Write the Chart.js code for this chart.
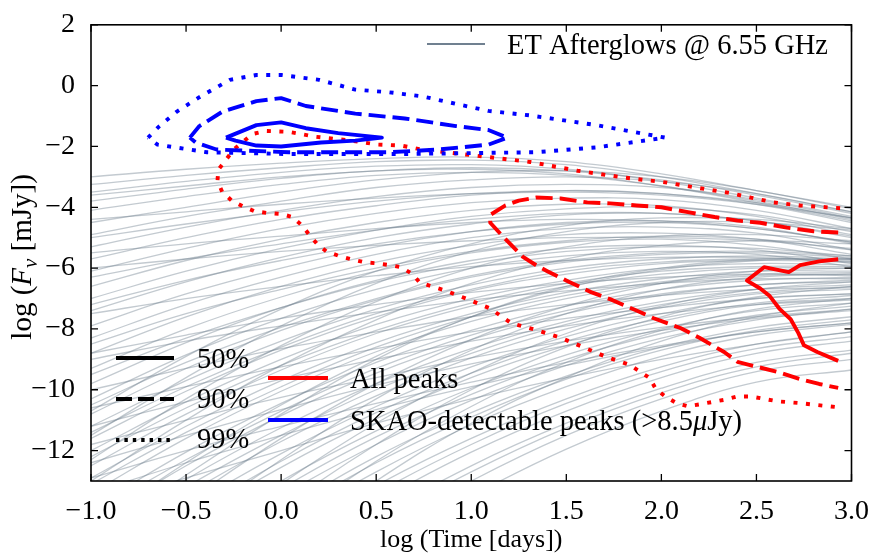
<!DOCTYPE html>
<html>
<head>
<meta charset="utf-8">
<script src="https://cdn.jsdelivr.net/npm/chart.js@4.4.1/dist/chart.umd.min.js"></script>
<style>
  html, body { margin: 0; padding: 0; background: #fff; }
  canvas { display: block; }
</style>
</head>
<body>
<canvas id="peakChart" width="875" height="559"></canvas>
<script>
// tick positions
const xTicks = [-1.0, -0.5, 0.0, 0.5, 1.0, 1.5, 2.0, 2.5, 3.0];
const yTicks = [-12, -10, -8, -6, -4, -2, 0, 2];

// light curves, log F at these log times
const lcTime = [-1.0, -0.5, 0.0, 0.5, 1.0, 1.5, 2.0, 2.5, 3.0];
const afterglows = [
  [-3.0, -2.75, -2.55, -2.4, -2.35, -2.5, -2.9, -3.45, -4.0],
  [-3.25, -2.95, -2.7, -2.5, -2.45, -2.6, -3.0, -3.55, -4.15],
  [-3.5, -3.15, -2.85, -2.65, -2.6, -2.75, -3.15, -3.7, -4.3],
  [-3.6, -3.3, -3.0, -2.8, -2.7, -2.8, -3.1, -3.6, -4.2],
  [-3.8, -3.4, -3.05, -2.8, -2.75, -2.9, -3.3, -3.85, -4.45],
  [-4.1, -3.65, -3.25, -2.95, -2.85, -2.95, -3.3, -3.8, -4.4],
  [-4.4, -4.15, -3.9, -3.7, -3.55, -3.5, -3.6, -3.9, -4.35],
  [-4.5, -4.0, -3.5, -3.1, -2.85, -2.8, -3.0, -3.45, -4.05],
  [-4.9, -4.3, -3.8, -3.35, -3.1, -3.0, -3.15, -3.55, -4.15],
  [-5.0, -4.55, -4.15, -3.8, -3.55, -3.45, -3.55, -3.85, -4.35],
  [-5.3, -4.65, -4.1, -3.65, -3.35, -3.25, -3.35, -3.75, -4.35],
  [-5.5, -5.2, -4.95, -4.7, -4.5, -4.4, -4.45, -4.7, -5.15],
  [-5.7, -5.0, -4.4, -3.95, -3.6, -3.45, -3.55, -3.9, -4.5],
  [-6.1, -5.35, -4.7, -4.2, -3.85, -3.7, -3.75, -4.1, -4.7],
  [-6.0, -5.7, -5.45, -5.25, -5.1, -5.0, -5.0, -5.1, -5.35],
  [-6.3, -5.7, -5.2, -4.75, -4.4, -4.2, -4.2, -4.45, -4.95],
  [-6.6, -5.75, -5.05, -4.5, -4.1, -3.9, -3.95, -4.3, -4.9],
  [-7.0, -6.1, -5.35, -4.75, -4.3, -4.05, -4.0, -4.25, -4.8],
  [-7.2, -6.4, -5.75, -5.2, -4.8, -4.55, -4.5, -4.7, -5.15],
  [-7.4, -6.45, -5.65, -5.0, -4.55, -4.25, -4.2, -4.45, -5.0],
  [-7.5, -7.0, -6.6, -6.25, -5.95, -5.75, -5.65, -5.65, -5.8],
  [-7.9, -6.85, -6.0, -5.3, -4.8, -4.5, -4.45, -4.65, -5.2],
  [-8.3, -7.2, -6.3, -5.55, -5.0, -4.7, -4.65, -4.85, -5.4],
  [-8.5, -7.5, -6.7, -6.0, -5.45, -5.1, -4.95, -5.05, -5.4],
  [-8.8, -7.6, -6.6, -5.8, -5.25, -4.9, -4.85, -5.05, -5.55],
  [-8.8, -8.2, -7.65, -7.2, -6.8, -6.5, -6.3, -6.2, -6.25],
  [-9.0, -8.4, -7.9, -7.45, -7.05, -6.75, -6.5, -6.35, -6.35],
  [-9.3, -8.0, -6.95, -6.1, -5.5, -5.15, -5.05, -5.25, -5.7],
  [-9.5, -8.3, -7.3, -6.45, -5.85, -5.45, -5.3, -5.35, -5.6],
  [-9.8, -8.45, -7.3, -6.4, -5.75, -5.35, -5.25, -5.4, -5.85],
  [-10.0, -9.3, -8.65, -8.1, -7.6, -7.2, -6.9, -6.7, -6.65],
  [-10.3, -8.85, -7.65, -6.7, -6.0, -5.6, -5.45, -5.55, -5.95],
  [-10.5, -9.1, -7.95, -7.0, -6.25, -5.75, -5.5, -5.45, -5.6],
  [-10.6, -9.9, -9.25, -8.65, -8.1, -7.65, -7.3, -7.0, -6.85],
  [-10.7, -8.9, -7.35, -6.1, -5.2, -4.6, -4.35, -4.4, -4.7],
  [-10.8, -9.3, -8.05, -7.05, -6.3, -5.8, -5.55, -5.5, -5.65],
  [-11.2, -9.7, -8.4, -7.35, -6.55, -6.0, -5.7, -5.6, -5.7],
  [-11.2, -10.4, -9.65, -9.0, -8.4, -7.9, -7.5, -7.2, -7.05],
  [-11.4, -9.9, -8.6, -7.5, -6.7, -6.1, -5.8, -5.7, -5.75],
  [-11.5, -9.6, -7.9, -6.5, -5.45, -4.8, -4.5, -4.5, -4.75],
  [-11.6, -10.05, -8.7, -7.6, -6.75, -6.2, -5.85, -5.75, -5.8],
  [-11.8, -11.0, -10.25, -9.6, -8.95, -8.4, -7.95, -7.6, -7.35],
  [-12.0, -10.4, -9.0, -7.85, -7.0, -6.4, -6.0, -5.85, -5.9],
  [-12.2, -10.6, -9.2, -8.05, -7.15, -6.5, -6.1, -5.95, -5.95],
  [-12.3, -10.3, -8.55, -7.1, -6.0, -5.3, -4.95, -4.9, -5.1],
  [-12.4, -11.5, -10.65, -9.85, -9.15, -8.55, -8.05, -7.65, -7.4],
  [-12.5, -10.8, -9.35, -8.15, -7.25, -6.6, -6.2, -6.0, -6.0],
  [-12.9, -11.2, -9.7, -8.45, -7.5, -6.8, -6.35, -6.1, -6.1],
  [-12.9, -12.0, -11.2, -10.45, -9.75, -9.1, -8.55, -8.1, -7.8],
  [-13.0, -11.0, -9.2, -7.7, -6.5, -5.7, -5.25, -5.1, -5.2],
  [-13.1, -11.4, -9.9, -8.6, -7.6, -6.9, -6.45, -6.2, -6.15],
  [-13.4, -11.6, -10.05, -8.75, -7.75, -7.0, -6.5, -6.25, -6.2],
  [-13.4, -12.4, -11.5, -10.65, -9.9, -9.2, -8.6, -8.1, -7.8],
  [-13.9, -12.05, -10.45, -9.1, -8.05, -7.25, -6.7, -6.4, -6.3],
  [-13.9, -12.9, -12.0, -11.1, -10.3, -9.6, -9.0, -8.5, -8.1],
  [-14.1, -12.3, -10.7, -9.3, -8.2, -7.4, -6.85, -6.55, -6.4],
  [-14.4, -12.5, -10.85, -9.45, -8.35, -7.5, -6.9, -6.55, -6.45],
  [-14.5, -12.4, -10.5, -8.9, -7.6, -6.65, -6.05, -5.75, -5.7],
  [-14.9, -12.95, -11.25, -9.8, -8.65, -7.75, -7.1, -6.7, -6.55],
  [-15.0, -12.8, -10.8, -9.0, -7.6, -6.6, -6.0, -5.7, -5.7],
  [-15.2, -13.2, -11.5, -10.0, -8.8, -7.85, -7.2, -6.8, -6.6],
  [-15.5, -13.45, -11.7, -10.2, -8.95, -8.0, -7.3, -6.85, -6.7],
  [-16.0, -13.9, -12.1, -10.55, -9.25, -8.25, -7.5, -7.0, -6.85],
  [-16.0, -13.7, -11.6, -9.8, -8.35, -7.25, -6.5, -6.1, -6.0],
  [-16.3, -14.2, -12.35, -10.75, -9.45, -8.4, -7.65, -7.15, -6.9],
  [-16.6, -14.4, -12.55, -10.95, -9.6, -8.55, -7.75, -7.2, -7.0],
  [-17.0, -14.5, -12.3, -10.3, -8.7, -7.5, -6.7, -6.3, -6.2],
  [-17.2, -14.95, -13.0, -11.35, -9.95, -8.85, -8.0, -7.4, -7.15],
  [-17.5, -15.2, -13.25, -11.55, -10.15, -9.0, -8.15, -7.55, -7.25],
  [-17.8, -15.5, -13.5, -11.8, -10.35, -9.2, -8.3, -7.7, -7.35],
  [-18.0, -15.4, -13.1, -11.1, -9.45, -8.15, -7.25, -6.7, -6.45],
  [-18.4, -16.0, -14.0, -12.2, -10.75, -9.55, -8.6, -7.95, -7.6],
  [-18.7, -16.3, -14.2, -12.4, -10.9, -9.65, -8.7, -8.05, -7.7],
  [-19.0, -16.6, -14.5, -12.7, -11.15, -9.9, -8.9, -8.2, -7.85],
  [-19.0, -16.3, -13.9, -11.8, -10.0, -8.6, -7.6, -6.95, -6.6],
  [-19.6, -17.2, -15.0, -13.15, -11.6, -10.3, -9.25, -8.5, -8.1],
  [-19.8, -17.0, -14.5, -12.35, -10.55, -9.1, -8.05, -7.35, -7.0],
  [-20.0, -17.5, -15.3, -13.4, -11.8, -10.45, -9.4, -8.65, -8.25],
  [-20.3, -17.8, -15.6, -13.7, -12.05, -10.7, -9.6, -8.8, -8.4],
  [-20.5, -17.7, -15.2, -13.0, -11.1, -9.6, -8.4, -7.6, -7.15],
  [-21.0, -18.5, -16.2, -14.2, -12.5, -11.1, -9.95, -9.1, -8.7],
  [-21.3, -18.7, -16.4, -14.4, -12.7, -11.25, -10.1, -9.25, -8.8],
  [-21.7, -19.1, -16.8, -14.75, -13.0, -11.5, -10.3, -9.4, -9.0],
  [-22.5, -19.8, -17.4, -15.3, -13.5, -11.95, -10.7, -9.75, -9.35]
];

// peak contours [log t, log F]
const blue50 = [[-0.29, -1.71], [-0.13, -1.30], [0.0, -1.21], [0.13, -1.40], [0.30, -1.56], [0.53, -1.71],
  [0.39, -1.81], [0.21, -1.87], [0.0, -2.0], [-0.13, -1.97], [-0.24, -1.81], [-0.29, -1.71]];
const blue90 = [[-0.48, -1.71], [-0.43, -1.33], [-0.31, -0.86], [-0.13, -0.51], [0.0, -0.41], [0.13, -0.67],
  [0.39, -0.92], [0.65, -1.08], [0.92, -1.33], [1.09, -1.46], [1.19, -1.71], [1.09, -1.94], [0.83, -2.10],
  [0.57, -2.19], [0.04, -2.19], [-0.34, -2.10], [-0.45, -1.87], [-0.48, -1.71]];
const blue99 = [[-0.70, -1.71], [-0.64, -1.33], [-0.55, -0.86], [-0.43, -0.38], [-0.27, 0.19], [-0.13, 0.35],
  [0.0, 0.35], [0.20, 0.19], [0.39, -0.13], [0.57, -0.22], [0.74, -0.35], [0.92, -0.60], [1.09, -0.83],
  [1.31, -0.98], [1.66, -1.30], [2.02, -1.71], [1.66, -2.03], [1.34, -2.19], [0.62, -2.25], [0.04, -2.25],
  [-0.39, -2.19], [-0.65, -1.94], [-0.70, -1.71]];
const red50 = [[2.93, -5.71], [2.83, -5.78], [2.73, -5.90], [2.67, -6.13], [2.54, -5.97], [2.45, -6.41],
  [2.52, -6.67], [2.57, -6.92], [2.62, -7.33], [2.68, -7.68], [2.72, -8.13], [2.75, -8.54], [2.82, -8.76],
  [2.93, -9.05]];
const red90 = [[2.93, -4.83], [2.80, -4.79], [2.66, -4.67], [2.52, -4.51], [2.40, -4.44], [2.28, -4.32],
  [2.14, -4.16], [2.00, -4.00], [1.87, -3.94], [1.73, -3.87], [1.61, -3.84], [1.47, -3.71], [1.34, -3.68],
  [1.25, -3.78], [1.18, -3.94], [1.10, -4.25], [1.10, -4.51], [1.18, -5.05], [1.27, -5.62], [1.35, -5.94],
  [1.40, -6.10], [1.51, -6.44], [1.63, -6.79], [1.73, -7.02], [1.86, -7.37], [1.96, -7.65], [2.10, -7.97],
  [2.20, -8.29], [2.33, -8.76], [2.40, -9.08], [2.50, -9.24], [2.62, -9.43], [2.73, -9.65], [2.83, -9.81],
  [2.93, -9.94]];
const red99 = [[2.94, -4.03], [2.73, -3.94], [2.59, -3.84], [2.47, -3.68], [2.35, -3.52], [2.20, -3.37],
  [2.02, -3.18], [1.80, -3.02], [1.56, -2.80], [1.31, -2.51], [1.09, -2.35], [0.74, -2.10], [0.63, -1.97],
  [0.51, -1.94], [0.37, -1.81], [0.18, -1.68], [0.04, -1.52], [-0.08, -1.49], [-0.15, -1.59], [-0.25, -2.10],
  [-0.29, -2.44], [-0.33, -2.76], [-0.335, -3.14], [-0.31, -3.49], [-0.26, -3.78], [-0.20, -3.97],
  [-0.14, -4.13], [-0.07, -4.19], [0.0, -4.22], [0.06, -4.32], [0.11, -4.60], [0.15, -4.92], [0.19, -5.21],
  [0.24, -5.46], [0.30, -5.59], [0.37, -5.71], [0.44, -5.81], [0.50, -5.84], [0.57, -5.90], [0.63, -5.97],
  [0.69, -6.19], [0.73, -6.48], [0.86, -6.73], [0.98, -7.02], [1.10, -7.33], [1.21, -7.81], [1.34, -8.03],
  [1.47, -8.29], [1.59, -8.60], [1.71, -8.92], [1.83, -9.17], [1.94, -9.62], [1.97, -9.97], [2.02, -10.22],
  [2.08, -10.44], [2.14, -10.54], [2.20, -10.48], [2.34, -10.32], [2.40, -10.22], [2.47, -10.22],
  [2.61, -10.38], [2.73, -10.44], [2.92, -10.57]];

const SERIF = "'Liberation Serif', 'DejaVu Serif', serif";
const GREY = 'rgba(112,128,144,0.42)';
const DASHED = [17, 7];
const DOTTED = [4, 8.5];

const toPts = arr => arr.map(p => ({ x: p[0], y: p[1] }));
const minus = s => String(s).replace('-', '\u2212');

function contour(pts, color, dash) {
  return {
    data: toPts(pts),
    borderColor: color,
    borderWidth: 3.9,
    borderDash: dash,
    borderCapStyle: 'butt',
    borderJoinStyle: 'round',
    pointRadius: 0,
    tension: 0,
    fill: false,
    order: color === 'blue' ? 1 : 2
  };
}

const datasets = [
  contour(blue50, 'blue', []),
  contour(blue90, 'blue', DASHED),
  contour(blue99, 'blue', DOTTED),
  contour(red50, 'red', []),
  contour(red90, 'red', DASHED),
  contour(red99, 'red', DOTTED)
];
afterglows.forEach(curve => {
  datasets.push({
    data: curve.map((y, i) => ({ x: lcTime[i], y: y })),
    borderColor: GREY,
    borderWidth: 1.3,
    pointRadius: 0,
    tension: 0.4,
    fill: false,
    order: 3
  });
});

// frame, inward ticks, axis titles and the three legends
const decorations = {
  id: 'decorations',
  afterDraw(chart) {
    const { ctx, chartArea: a, scales } = chart;
    ctx.save();
    ctx.strokeStyle = '#000';
    ctx.lineWidth = 1.6;
    ctx.strokeRect(a.left, a.top, a.right - a.left, a.bottom - a.top);
    ctx.lineWidth = 1.3;
    ctx.beginPath();
    xTicks.forEach(v => {
      const px = scales.x.getPixelForValue(v);
      ctx.moveTo(px, a.bottom); ctx.lineTo(px, a.bottom - 7);
      ctx.moveTo(px, a.top); ctx.lineTo(px, a.top + 7);
    });
    yTicks.forEach(v => {
      const py = scales.y.getPixelForValue(v);
      ctx.moveTo(a.left, py); ctx.lineTo(a.left + 7, py);
      ctx.moveTo(a.right, py); ctx.lineTo(a.right - 7, py);
    });
    ctx.stroke();

    ctx.fillStyle = '#000';
    ctx.textBaseline = 'alphabetic';
    // x title
    ctx.font = '26px ' + SERIF;
    ctx.textAlign = 'center';
    ctx.fillText('log (Time [days])', (a.left + a.right) / 2, 547);

    // y title with italic F and subscript nu
    ctx.save();
    ctx.translate(31, (a.top + a.bottom) / 2 + 4);
    ctx.rotate(-Math.PI / 2);
    ctx.textAlign = 'left';
    const parts = [
      ['log (', '29px ' + SERIF, 0],
      ['F', 'italic 29px ' + SERIF, 0],
      ['\u03BD', 'italic 21px ' + SERIF, 6],
      [' [mJy])', '29px ' + SERIF, 0]
    ];
    let total = 0;
    parts.forEach(p => { ctx.font = p[1]; total += ctx.measureText(p[0]).width; });
    let cx = -total / 2;
    parts.forEach(p => {
      ctx.font = p[1];
      ctx.fillText(p[0], cx, p[2]);
      cx += ctx.measureText(p[0]).width;
    });
    ctx.restore();

    const legendLine = (x0, x1, y, color, width, dash) => {
      ctx.save();
      ctx.strokeStyle = color;
      ctx.lineWidth = width;
      ctx.setLineDash(dash);
      ctx.lineCap = 'butt';
      ctx.beginPath();
      ctx.moveTo(x0, y); ctx.lineTo(x1, y);
      ctx.stroke();
      ctx.restore();
    };
    ctx.textAlign = 'left';
    const fs = 28.5;
    const label = (txt, x, y) => { ctx.font = fs + 'px ' + SERIF; ctx.fillText(txt, x, y + fs * 0.34); };

    legendLine(427, 485, 44, '#708090', 1.8, []);
    label('ET Afterglows @ 6.55 GHz', 507, 44);

    legendLine(116, 174, 358, '#000', 4, []);
    label('50%', 197, 358);
    legendLine(116, 174, 399, '#000', 4, [16, 6]);
    label('90%', 197, 398);
    legendLine(116, 174, 440, '#000', 4, [3.4, 5]);
    label('99%', 197, 438);

    legendLine(268, 328, 378, 'red', 4, []);
    label('All peaks', 350, 378);
    legendLine(268, 328, 420, 'blue', 4, []);
    const pre = 'SKAO-detectable peaks (>8.5';
    label(pre, 350, 420);
    ctx.font = fs + 'px ' + SERIF;
    let tx = 350 + ctx.measureText(pre).width;
    ctx.font = 'italic ' + fs + 'px ' + SERIF;
    ctx.fillText('\u03BC', tx, 420 + fs * 0.34);
    tx += ctx.measureText('\u03BC').width;
    label('Jy)', tx, 420);
    ctx.restore();
  }
};

new Chart(document.getElementById('peakChart'), {
  type: 'line',
  data: { datasets: datasets },
  options: {
    responsive: false,
    animation: false,
    devicePixelRatio: 1,
    events: [],
    layout: { padding: { top: 8, right: 20, left: 0, bottom: 0 } },
    plugins: { legend: { display: false }, tooltip: { enabled: false } },
    scales: {
      x: {
        type: 'linear', min: -1, max: 3,
        afterBuildTicks: s => { s.ticks = xTicks.map(v => ({ value: v })); },
        afterFit: s => { s.height = 78; },
        grid: { display: false }, border: { display: false },
        ticks: { color: '#000', padding: 6, maxRotation: 0, font: { family: SERIF, size: 28 },
          callback: v => minus(v.toFixed(1)) }
      },
      y: {
        type: 'linear', min: -13, max: 2,
        afterBuildTicks: s => { s.ticks = yTicks.map(v => ({ value: v })); },
        afterFit: s => { s.width = 91; },
        grid: { display: false }, border: { display: false },
        ticks: { color: '#000', padding: 8, font: { family: SERIF, size: 28 },
          callback: v => minus(v) }
      }
    }
  },
  plugins: [decorations]
});
</script>
</body>
</html>
